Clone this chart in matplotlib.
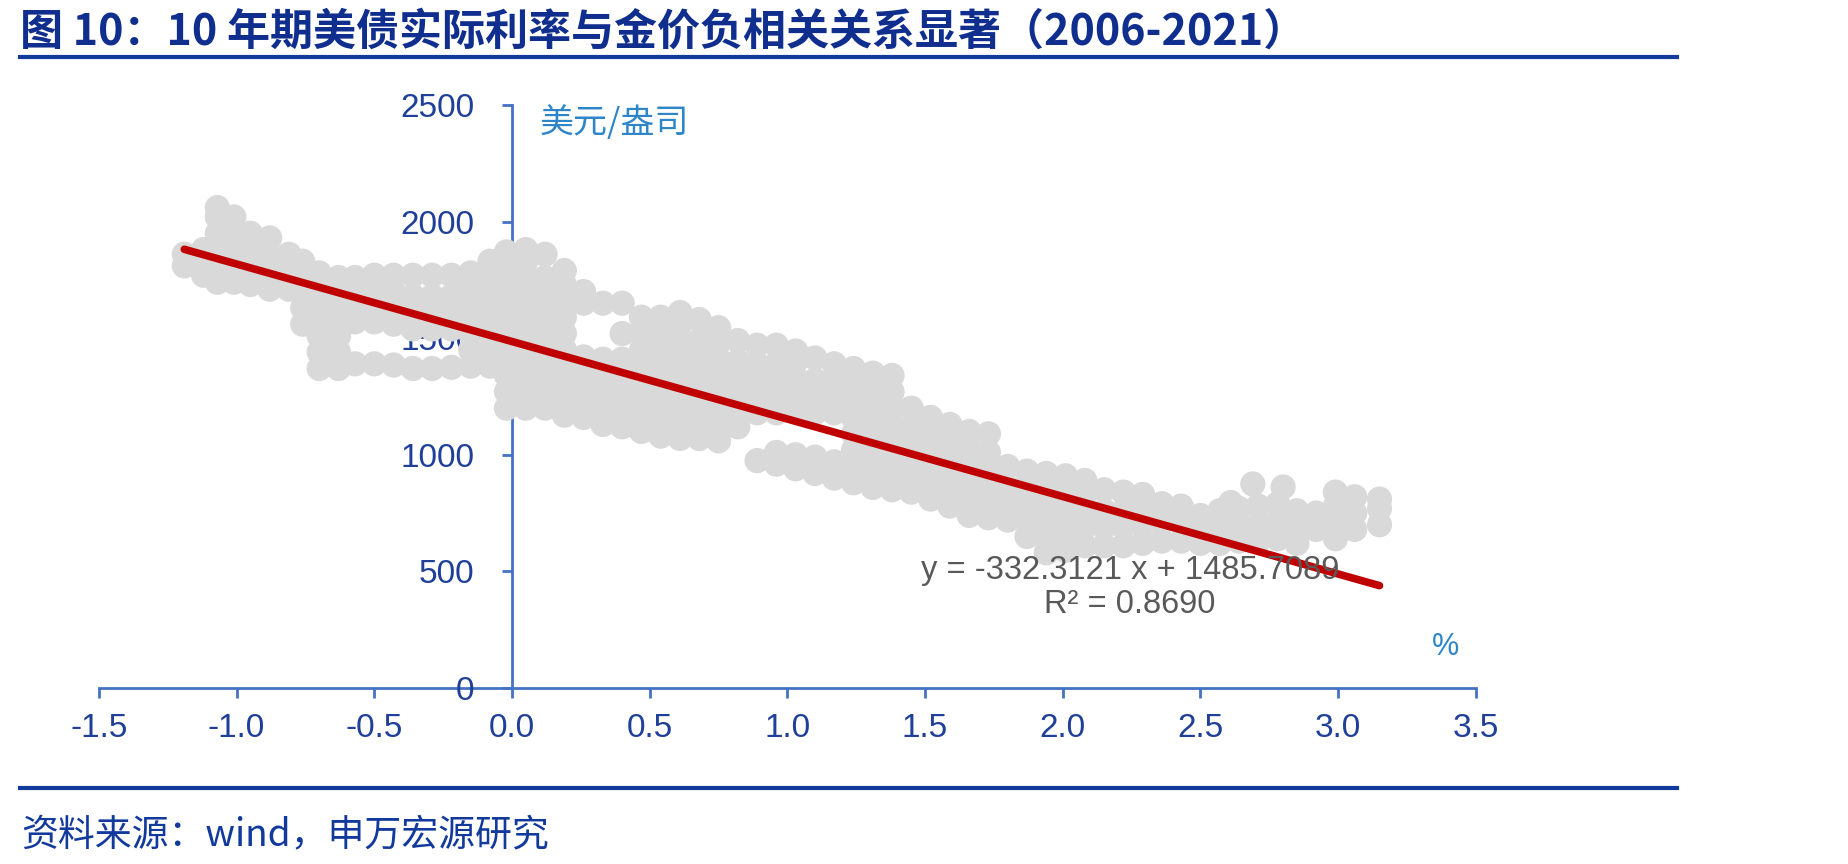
import numpy as np
import matplotlib
matplotlib.use('Agg')
import matplotlib.pyplot as plt
from matplotlib.lines import Line2D

plt.rcParams['font.family'] = ['Liberation Sans', 'Noto Sans CJK SC', 'DejaVu Sans']

rate_neg = [-1.19, -1.12, -1.07, -1.01, -0.95, -0.88, -0.81, -0.76, -0.70, -0.63,
            -0.57, -0.50, -0.43, -0.36, -0.29, -0.22, -0.15, -0.08]
gold_neg = [[1810, 1860], [1770, 1830, 1880], [1740, 1810, 1880, 1950, 2020, 2060],
            [1740, 1810, 1880, 1950, 2020], [1730, 1800, 1870, 1950], [1710, 1780, 1850, 1930],
            [1710, 1780, 1860], [1560, 1630, 1700, 1770, 1830],
            [1370, 1440, 1510, 1580, 1650, 1720, 1780], [1370, 1440, 1510, 1580, 1650, 1720, 1760],
            [1390, 1570, 1640, 1710, 1760], [1390, 1570, 1640, 1710, 1770],
            [1385, 1560, 1630, 1700, 1770], [1370, 1540, 1610, 1680, 1770],
            [1370, 1540, 1610, 1680, 1770], [1375, 1540, 1610, 1680, 1770],
            [1380, 1450, 1520, 1590, 1660, 1730, 1780], [1380, 1450, 1520, 1590, 1660, 1730, 1800, 1830]]

rate_mid = [-0.02, 0.05, 0.12, 0.19, 0.26, 0.33, 0.40, 0.47, 0.54, 0.61, 0.68, 0.75,
            0.82, 0.89, 0.96, 1.03, 1.10, 1.17, 1.24, 1.31, 1.38, 1.45]
gold_mid = [[1200, 1270, 1340, 1410, 1480, 1550, 1620, 1690, 1760, 1830, 1870],
            [1200, 1270, 1340, 1410, 1480, 1550, 1620, 1690, 1760, 1830, 1880],
            [1200, 1270, 1340, 1410, 1480, 1550, 1620, 1690, 1760, 1860],
            [1170, 1240, 1310, 1380, 1450, 1520, 1590, 1660, 1730, 1790],
            [1160, 1230, 1300, 1370, 1420, 1650, 1700],
            [1130, 1200, 1270, 1340, 1410, 1650],
            [1120, 1190, 1260, 1330, 1410, 1520, 1650],
            [1100, 1170, 1240, 1310, 1380, 1450, 1520, 1590],
            [1080, 1150, 1220, 1290, 1360, 1430, 1510, 1590],
            [1070, 1140, 1210, 1280, 1350, 1420, 1490, 1560, 1610],
            [1070, 1140, 1210, 1280, 1350, 1420, 1490, 1580],
            [1060, 1130, 1200, 1270, 1340, 1410, 1480, 1545],
            [1120, 1190, 1260, 1330, 1400, 1490],
            [975, 1180, 1250, 1320, 1390, 1470],
            [960, 1010, 1180, 1250, 1320, 1390, 1470],
            [940, 1000, 1190, 1260, 1330, 1400, 1445],
            [920, 990, 1180, 1250, 1320, 1415],
            [900, 970, 1180, 1250, 1320, 1390],
            [880, 950, 1020, 1090, 1160, 1230, 1300, 1370],
            [860, 930, 1000, 1070, 1140, 1210, 1280, 1350],
            [850, 920, 990, 1060, 1130, 1200, 1270, 1340],
            [840, 910, 980, 1050, 1120, 1200]]

rate_high = [1.52, 1.59, 1.66, 1.73, 1.80, 1.87, 1.94, 2.01, 2.08, 2.15, 2.22, 2.29, 2.36,
             2.43, 2.50, 2.57, 2.61, 2.64, 2.69, 2.71, 2.78, 2.80, 2.85, 2.92, 2.99, 3.06, 3.15]
gold_high = [[810, 880, 950, 1020, 1090, 1160], [780, 850, 920, 990, 1060, 1130],
             [740, 810, 880, 950, 1020, 1100], [730, 800, 870, 940, 1010, 1090],
             [720, 790, 860, 950], [650, 720, 790, 860, 930], [580, 650, 720, 790, 860, 920],
             [590, 660, 730, 800, 870, 910], [610, 690, 760, 830, 890], [610, 690, 760, 850],
             [610, 690, 760, 840], [620, 700, 770, 830], [630, 710, 790], [630, 710, 780],
             [620, 680, 740], [620, 690, 760], [795], [630, 700, 770], [875], [630, 700, 780],
             [640, 710, 790], [862], [620, 690, 760], [680, 750], [640, 710, 780, 840],
             [680, 750, 820], [700, 770, 810]]

slope = -332.3121
intercept = 1485.7089
r2 = 0.8690

x_ticks = [-1.5, -1.0, -0.5, 0.0, 0.5, 1.0, 1.5, 2.0, 2.5, 3.0, 3.5]
y_ticks = [0, 500, 1000, 1500, 2000, 2500]

rates, golds = [], []
for rs, gs in [(rate_neg, gold_neg), (rate_mid, gold_mid), (rate_high, gold_high)]:
    for r, g in zip(rs, gs):
        rates += [r] * len(g)
        golds += g
rates = np.array(rates)
golds = np.array(golds)

axis_blue = '#4472C4'
label_blue = '#1F3F99'
navy = '#0F2E8E'
light_blue = '#2E86C8'

fig = plt.figure(figsize=(18.49, 8.64), dpi=100)
ax = fig.add_axes([0.0535, 0.2037, 0.7447, 0.6748])

ax.scatter(rates, golds, s=330, color='#D9D9D9', edgecolors='none', zorder=2)

fit_x = np.array([rates.min(), rates.max()])
ax.plot(fit_x, slope * fit_x + intercept, color='#C00000', lw=5.5,
        solid_capstyle='round', zorder=3)

ax.set_xlim(-1.5, 3.5)
ax.set_ylim(0, 2500)
ax.set_xticks(x_ticks)
ax.set_xticklabels([f'{t:.1f}' for t in x_ticks])
ax.set_yticks(y_ticks)

for s in ['top', 'right']:
    ax.spines[s].set_visible(False)
ax.spines['left'].set_position(('data', 0))
ax.spines['bottom'].set_position(('data', 0))
for s in ['left', 'bottom']:
    ax.spines[s].set_color(axis_blue)
    ax.spines[s].set_linewidth(2)
    ax.spines[s].set_zorder(1)

ax.tick_params(axis='y', direction='out', length=7, width=2, color=axis_blue,
               labelcolor=label_blue, labelsize=24, pad=20)
ax.tick_params(axis='x', direction='out', length=7, width=2, color=axis_blue,
               labelcolor=label_blue, labelsize=24, pad=11)

ax.text(0.3203, 0.969, '美元/盎司', transform=ax.transAxes, ha='left', va='center',
        fontsize=24.5, color=light_blue, family=['Noto Sans CJK SC', 'DejaVu Sans'])
ax.text(0.978, 0.0703, '%', transform=ax.transAxes, ha='center', va='center',
        fontsize=22, color=light_blue)

ax.text(0.7487, 0.2007, f'y = {slope:.4f} x + {intercept:.4f}', transform=ax.transAxes,
        ha='center', va='center', fontsize=23.5, color='#595959', zorder=5)
ax.text(0.7487, 0.1424, f'R² = {r2:.4f}', transform=ax.transAxes,
        ha='center', va='center', fontsize=23.5, color='#595959', zorder=5)

# title, rules and source
fig.text(0.0108, 0.963, '图 10：10 年期美债实际利率与金价负相关关系显著（2006-2021）',
         ha='left', va='center', fontsize=31, fontweight='heavy', color=navy,
         family=['Noto Sans CJK SC', 'DejaVu Sans'])
fig.add_artist(Line2D([0.0108, 0.907], [0.934, 0.934], transform=fig.transFigure,
                      color='#12399C', lw=3))
fig.add_artist(Line2D([0.0108, 0.907], [0.088, 0.088], transform=fig.transFigure,
                      color='#12399C', lw=3))
fig.text(0.0114, 0.0336, '资料来源：wind，申万宏源研究', ha='left', va='center',
         fontsize=26.6, color='#12399C', family=['Noto Sans CJK SC', 'DejaVu Sans'])

fig.savefig('out.png', dpi=100)
